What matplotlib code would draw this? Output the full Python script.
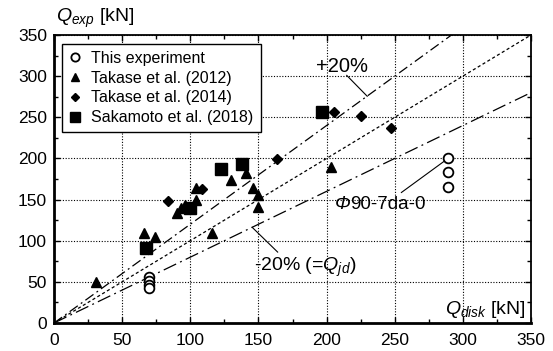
import matplotlib
matplotlib.use("Agg")
import matplotlib.pyplot as plt
from matplotlib.ticker import MultipleLocator
import numpy as np

plt.rcParams['font.family'] = ['Liberation Sans', 'DejaVu Sans']
plt.rcParams['mathtext.fontset'] = 'custom'
plt.rcParams['mathtext.rm'] = 'Liberation Sans'
plt.rcParams['mathtext.it'] = 'Liberation Sans:italic'
plt.rcParams['mathtext.bf'] = 'Liberation Sans:bold'

# ---- data ----
this_x = [69.5, 69.5, 69.5, 69.5, 289, 289, 289]
this_y = [56, 51, 46, 42, 201, 184, 165]

t2012_x = [31, 66, 74, 90, 93, 96, 104, 104, 116, 130, 141, 146, 150, 150, 203]
t2012_y = [50, 109, 104, 134, 140, 143, 150, 164, 109, 174, 182, 164, 156, 141, 190]

t2014_x = [84, 108.5, 163.5, 205.5, 225.5, 247]
t2014_y = [148, 162.5, 199, 257, 252, 236.5]

s2018_x = [67.5, 100, 122.5, 138, 197]
s2018_y = [91.5, 140, 187, 193, 257]

ratio_labels = ['+20%', '0%', '-20%']
ratios = [1.2, 1.0, 0.8]
x_line = [0, 350]

xticks = [0, 50, 100, 150, 200, 250, 300, 350]
yticks = [0, 50, 100, 150, 200, 250, 300, 350]

fig = plt.figure(figsize=(5.53, 3.51), dpi=100)
ax = fig.add_axes([54/553, 1 - 323/351, 477/553, 288/351])

ax.set_xlim(0, 350)
ax.set_ylim(0, 350)
ax.set_xticks(xticks)
ax.set_yticks(yticks)
ax.xaxis.set_minor_locator(MultipleLocator(25))
ax.yaxis.set_minor_locator(MultipleLocator(25))
ax.tick_params(which='both', direction='in', top=True, right=True,
               labelsize=12.5)
ax.tick_params(axis='x', pad=7)
ax.tick_params(axis='y', pad=5)
ax.tick_params(which='major', length=4, width=1)
ax.tick_params(which='minor', length=3, width=1)
ax.grid(True, which='major', color='black', linestyle=(0, (1, 1.5)), linewidth=0.8)
for s in ['left', 'bottom']:
    ax.spines[s].set_linewidth(2)
for s in ['top', 'right']:
    ax.spines[s].set_linewidth(1.3)

# reference lines
styles = [(0, (8, 3, 1.5, 3)), (0, (2.5, 2)), (0, (11, 3.5, 1.5, 3.5))]
for r, ls in zip(ratios, styles):
    xl = np.array(x_line, dtype=float)
    ax.plot(xl, r * xl, color='black', lw=0.9, linestyle=ls, zorder=2)

# data
ax.plot(this_x, this_y, 'o', ms=7, mfc='white', mec='black', mew=1.3, zorder=4,
        label='This experiment')
ax.plot(t2012_x, t2012_y, '^', ms=6.5, color='black', zorder=4,
        label='Takase et al. (2012)')
ax.plot(t2014_x, t2014_y, 'D', ms=5, color='black', zorder=4,
        label='Takase et al. (2014)')
ax.plot(s2018_x, s2018_y, 's', ms=8, color='black', zorder=4,
        label='Sakamoto et al. (2018)')

leg = ax.legend(loc='upper left', bbox_to_anchor=(0.016, 0.97), fontsize=11.5,
                frameon=True, fancybox=False, edgecolor='black', framealpha=1,
                handlelength=0.8, handletextpad=0.6, borderpad=0.45,
                labelspacing=0.3, markerscale=0.85, borderaxespad=0)
leg.get_frame().set_linewidth(1.0)

# annotations
ax.text(211, 312, '+20%', fontsize=14.5, ha='center', va='center')
ax.plot([214.8, 229.8], [300.9, 275.6], color='black', lw=0.8)
ax.text(146.5, 68, r'-20% (=$Q_{jd}$)', fontsize=14, ha='left', va='center')
ax.plot([145.4, 164.1], [116.3, 86.2], color='black', lw=0.8)
ax.text(206, 143.5, 'Φ', fontsize=13.5, fontstyle='italic', ha='left', va='center')
ax.text(217.5, 143.5, '90-7da-0', fontsize=13.5, ha='left', va='center')
ax.plot([254.9, 288.3], [158.6, 199.0], color='black', lw=0.8)

fig.text(56/553, 1 - 18/351, r'$Q_{exp}$ [kN]', fontsize=14, ha='left', va='center')
ax.text(346, 16, r'$Q_{disk}$ [kN]', fontsize=14, ha='right', va='center')

fig.savefig('out.png', dpi=100)
